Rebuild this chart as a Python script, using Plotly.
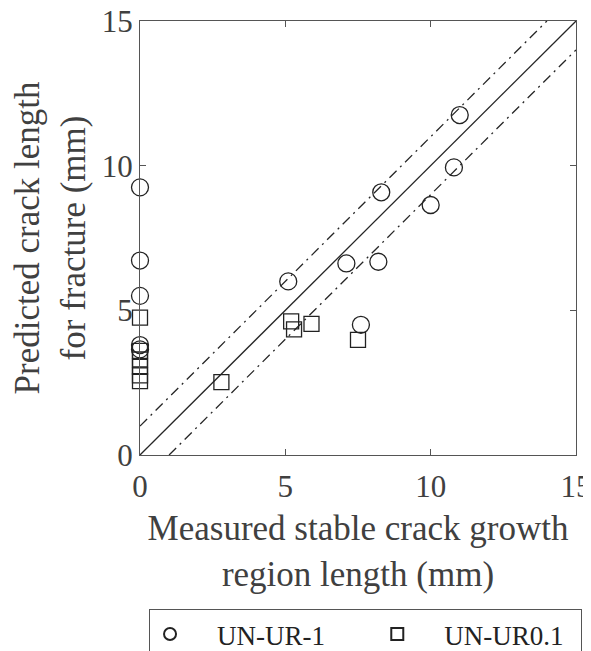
import plotly.graph_objects as go

# UN-UR-1 (circles)
ur1_x = [0, 0, 0, 0, 0, 5.1, 7.1, 8.2, 8.3, 10.0, 10.8, 11.0, 7.6]
ur1_y = [9.25, 6.72, 5.5, 3.8, 3.65, 6.0, 6.62, 6.68, 9.08, 8.64, 9.94, 11.75, 4.5]

# UN-UR0.1 (squares)
ur01_x = [0, 0, 0, 0, 0, 0, 2.8, 5.2, 5.3, 5.9, 7.5]
ur01_y = [4.75, 3.6, 3.3, 3.05, 2.75, 2.55, 2.52, 4.62, 4.34, 4.53, 3.98]

# reference lines
ideal_x = [0, 15]
ideal_y = [0, 15]
upper_x = [0, 14]
upper_y = [1, 15]
lower_x = [1, 15]
lower_y = [0, 14]

tick_vals = [0, 5, 10, 15]
tick_text = ["0", "5", "10", "15"]

FONT = "Liberation Serif, Times New Roman, serif"
TXT = "#404040"
LINEC = "#262626"
NB = "\u00a0"
THIN = "\u2009"

fig = go.Figure()
fig.add_trace(go.Scatter(x=ideal_x, y=ideal_y, mode="lines",
                         line=dict(color=LINEC, width=1.3), showlegend=False))
fig.add_trace(go.Scatter(x=upper_x, y=upper_y, mode="lines",
                         line=dict(color=LINEC, width=1.3, dash="10px,5px,2px,5px"), showlegend=False))
fig.add_trace(go.Scatter(x=lower_x, y=lower_y, mode="lines",
                         line=dict(color=LINEC, width=1.3, dash="10px,5px,2px,5px"), showlegend=False))
fig.add_trace(go.Scatter(x=ur1_x, y=ur1_y, mode="markers", name=NB * 4 + "UN-UR-1" + NB * 7,
                         marker=dict(symbol="circle-open", size=17, color="#222",
                                     line=dict(width=1.3, color="#222")),
                         cliponaxis=False))
fig.add_trace(go.Scatter(x=ur01_x, y=ur01_y, mode="markers", name=NB * 4 + "UN-UR0.1" + NB + THIN,
                         marker=dict(symbol="square-open", size=15, color="#222",
                                     line=dict(width=1.3, color="#222")),
                         cliponaxis=False))

axis_common = dict(range=[0, 15], tickvals=tick_vals, ticktext=tick_text,
                   ticks="inside", ticklen=6, tickcolor="#555", showline=True,
                   linecolor="#555", linewidth=1.2, mirror="ticks", showgrid=False,
                   zeroline=False, automargin=False, ticklabeloverflow="allow",
                   tickfont=dict(family=FONT, size=31, color=TXT))

# the page body has an 8px margin, so the figure is laid out 8px smaller
fig.update_layout(
    width=583, height=643,
    margin=dict(l=132, r=15, t=13, b=196, autoexpand=False),
    paper_bgcolor="white", plot_bgcolor="white",
    xaxis=dict(**axis_common, ticklabelstandoff=4,
               title=dict(text="Measured stable crack growth<br>region length (mm)",
                          font=dict(family=FONT, size=35, color=TXT), standoff=12)),
    yaxis=dict(**axis_common,
               title=dict(text="Predicted crack length<br>for fracture (mm)",
                          font=dict(family=FONT, size=35, color=TXT), standoff=7)),
    legend=dict(orientation="h", xref="container", yref="container",
                x=0.2419, xanchor="left", y=0.0653, yanchor="top",
                bordercolor="#555", borderwidth=1, bgcolor="white",
                font=dict(family=FONT, size=27, color="#222"),
                itemsizing="constant"),
    showlegend=True,
)

fig.write_html("out.html")
